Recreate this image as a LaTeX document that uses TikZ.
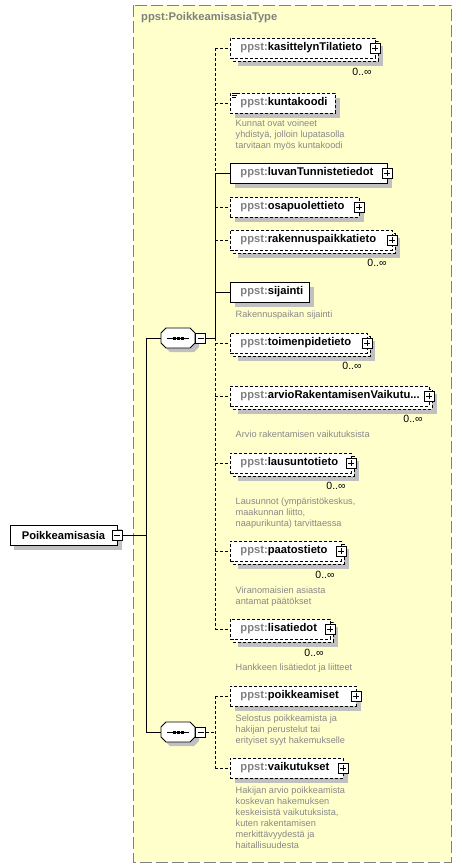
\documentclass[tikz,border=0pt]{standalone}
\usepackage{fontspec}
\setmainfont{Liberation Sans}
\definecolor{bgyellow}{RGB}{255,255,204}
\definecolor{frameGray}{RGB}{128,128,128}
\definecolor{shadowGray}{RGB}{192,192,192}
\definecolor{prefixGray}{RGB}{128,128,128}
\definecolor{descGray}{RGB}{136,136,136}
\tikzset{
  base/.style={line width=0.9pt},
  optline/.style={dash pattern=on 3pt off 2pt},
  elem/.style={draw=black, fill=white, line width=0.9pt, minimum height=20pt, inner xsep=10pt, inner ysep=0pt, align=left, anchor=west, font=\fontsize{11.2}{13}\selectfont\bfseries},
  iconbox/.style={draw=black, fill=white, line width=0.8pt, minimum size=10pt, inner sep=0pt},
  desc/.style={anchor=north west, inner sep=0pt, align=left, text=descGray, font=\fontsize{9.2}{11}\selectfont},
  mult/.style={inner sep=0pt, font=\fontsize{10.5}{12}\selectfont},
  seqbox/.style={minimum width=34pt, minimum height=20pt, inner sep=0pt},
  rootbox/.style={draw=black, fill=white, line width=0.9pt, minimum width=107pt, minimum height=20pt, inner sep=0pt, font=\fontsize{11.2}{13}\selectfont\bfseries},
  titlestyle/.style={anchor=west, inner sep=0pt, text=prefixGray, font=\fontsize{11.2}{13}\selectfont\bfseries}
}
% #1 name, #2 centre y, #3 width, #4 local name, #5 line style, #6 multi, #7 plus icon
\newcommand{\elembox}[7]{%
  \pgfmathsetmacro{\eR}{230+#3}%
  \pgfmathsetmacro{\eT}{#3-20}%
  \ifnum#6=1\relax
    \fill[shadowGray] (238,#2-2) rectangle (\eR+8,#2+18);
    \draw[line width=0.9pt,#5,fill=white] (233,#2-7) rectangle (\eR+3,#2+13);
  \else
    \fill[shadowGray] (235,#2-5) rectangle (\eR+5,#2+15);
  \fi
  \node[elem,#5,text width=\eT pt] (#1) at (230,#2) {\textcolor{prefixGray}{ppst:}#4};
  \ifnum#7=1\relax
    \node[iconbox] (#1p) at (\eR,#2) {};
    \draw[line width=0.8pt] ([xshift=-3pt]#1p.center) -- ([xshift=3pt]#1p.center) ([yshift=-3pt]#1p.center) -- ([yshift=3pt]#1p.center);
  \fi
}
% octagon of a sequence compositor, centred at (#1,#2)
\newcommand{\octapath}[2]{(#1-12,#2-10) -- (#1+12,#2-10) -- (#1+17,#2-5) -- (#1+17,#2+5) -- (#1+12,#2+10) -- (#1-12,#2+10) -- (#1-17,#2+5) -- (#1-17,#2-5) -- cycle}
\begin{document}
\begin{tikzpicture}[x=1pt,y=-1pt]
\useasboundingbox (0,0) rectangle (461,868);
\draw[frameGray, line width=1pt, dash pattern=on 12pt off 4pt, fill=bgyellow] (133,5) rectangle (451,862);
\node[titlestyle] (title) at (141,18) {ppst:PoikkeamisasiaType};

% root
\fill[shadowGray] (14,529) rectangle (122,550);
\node[rootbox] (root) at (63.5,535) {Poikkeamisasia};
\node[iconbox] (rootm) at (root.east) {};
\draw[line width=0.8pt] ([xshift=-3pt]rootm.center) -- ([xshift=3pt]rootm.center);
\coordinate (trunk) at (146,535);

% sequences
\foreach \cy in {338,732}{
  \fill[shadowGray] \octapath{182}{\cy+4};
  \draw[line width=0.9pt, fill=white] \octapath{178}{\cy};
}
\node[seqbox] (seq1) at (178,338) {};
\node[iconbox, anchor=west] (seq1m) at (seq1.east) {};
\node[seqbox] (seq2) at (178,732) {};
\node[iconbox, anchor=west] (seq2m) at (seq2.east) {};
\foreach \s in {seq1,seq2}{
  \draw[line width=0.9pt] ([xshift=-11pt]\s.center) -- ([xshift=11pt]\s.center);
  \foreach \dx in {-4,0,4} \fill ([xshift=\dx pt]\s.center) +(-1.5,-1.5) rectangle +(1.5,1.5);
  \draw[line width=0.8pt] ([xshift=-3pt]\s m.center) -- ([xshift=3pt]\s m.center);
}
\coordinate (b1) at (215,338);
\coordinate (b2) at (215,732);

\draw[base] (rootm.east) -- (trunk);
\draw[base] (seq1.west) -- (trunk |- seq1.west) -- (trunk |- seq2.west) -- (seq2.west);
\draw[base] (seq1m.east) -- (b1);
\draw[base,optline] (seq2m.east) -- (b2);

% elements
\elembox{kas}{48}{145}{kasittelynTilatieto}{optline}{1}{1}
\elembox{kun}{103}{105}{kuntakoodi}{optline}{0}{0}
\elembox{luv}{173}{157}{luvanTunnistetiedot}{solid}{0}{1}
\elembox{osa}{207}{129}{osapuolettieto}{optline}{0}{1}
\elembox{rak}{240}{162}{rakennuspaikkatieto}{optline}{1}{1}
\elembox{sij}{292}{79}{sijainti}{solid}{0}{0}
\elembox{toi}{343}{137}{toimenpidetieto}{optline}{1}{1}
\elembox{arv}{396}{199}{arvioRakentamisenVaikutu...}{optline}{1}{1}
\elembox{lau}{463}{121}{lausuntotieto}{optline}{1}{1}
\elembox{paa}{551}{111}{paatostieto}{optline}{1}{1}
\elembox{lis}{629}{100}{lisatiedot}{optline}{1}{1}
\elembox{poi}{696}{126}{poikkeamiset}{optline}{0}{1}
\elembox{vai}{768}{113}{vaikutukset}{optline}{0}{1}

% simple-type icon on kuntakoodi
\draw[line width=0.6pt] ([shift={(1.5,0.8)}]kun.north west) -- ++(6,0)
  ([shift={(1.5,2.6)}]kun.north west) -- ++(5,0)
  ([shift={(1.5,4.4)}]kun.north west) -- ++(4,0);

% spine of sequence 1
\draw[base,optline] (kas.west -| b1) -- (luv.west -| b1);
\draw[base] (luv.west -| b1) -- (b1);
\draw[base,optline] (b1) -- (lis.west -| b1);
\foreach \n in {kas,kun,osa,rak,toi,arv,lau,paa,lis}
  \draw[base,optline] (\n.west -| b1) -- (\n.west);
\foreach \n in {luv,sij}
  \draw[base] (\n.west -| b1) -- (\n.west);
% spine of sequence 2
\draw[base,optline] (poi.west -| b2) -- (vai.west -| b2);
\foreach \n in {poi,vai}
  \draw[base,optline] (\n.west -| b2) -- (\n.west);

% multiplicities
\node[mult] (m1) at (362,72) {0..∞};
\node[mult] (m5) at (377,263) {0..∞};
\node[mult] (m7) at (352,366) {0..∞};
\node[mult] (m8) at (413,419) {0..∞};
\node[mult] (m9) at (336,486) {0..∞};
\node[mult] (m10) at (325,575) {0..∞};
\node[mult] (m11) at (314,653) {0..∞};

% descriptions
\node[desc] (d2) at (235.5,120) {Kunnat ovat voineet\\yhdistyä, jolloin lupatasolla\\tarvitaan myös kuntakoodi};
\node[desc] (d6) at (235.5,311) {Rakennuspaikan sijainti};
\node[desc] (d8) at (235.5,431) {Arvio rakentamisen vaikutuksista};
\node[desc] (d9) at (235.5,498) {Lausunnot (ympäristökeskus,\\maakunnan liitto,\\naapurikunta) tarvittaessa};
\node[desc] (d10) at (235.5,587) {Viranomaisien asiasta\\antamat päätökset};
\node[desc] (d11) at (235.5,664) {Hankkeen lisätiedot ja liitteet};
\node[desc] (d12) at (235.5,715) {Selostus poikkeamista ja\\hakijan perustelut tai\\erityiset syyt hakemukselle};
\node[desc] (d13) at (235.5,787) {Hakijan arvio poikkeamista\\koskevan hakemuksen\\keskeisistä vaikutuksista,\\kuten rakentamisen\\merkittävyydestä ja\\haitallisuudesta};
\end{tikzpicture}
\end{document}
